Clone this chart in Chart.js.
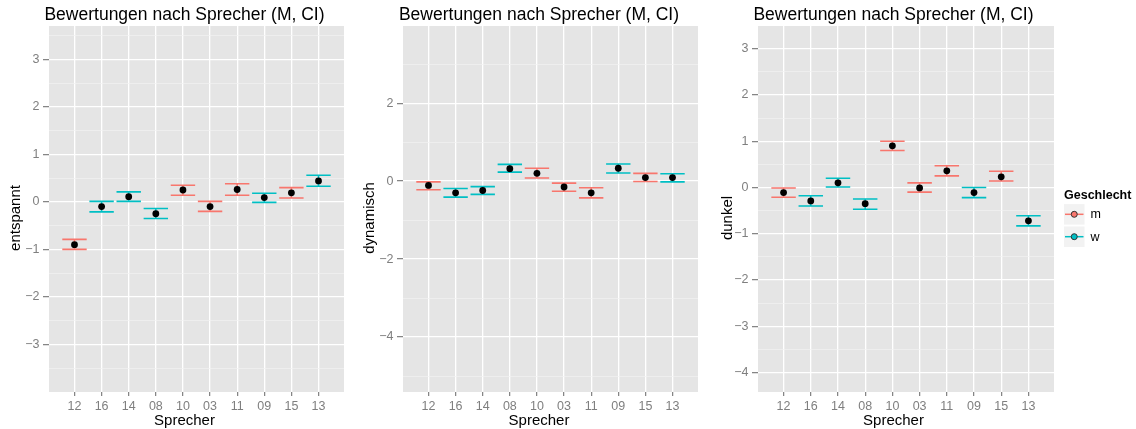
<!DOCTYPE html>
<html>
<head>
<meta charset="utf-8">
<script src="https://cdn.jsdelivr.net/npm/chart.js@4.4.1/dist/chart.umd.min.js"></script>
<style>
  body { margin: 0; background: #fff; width: 1136px; height: 429px; overflow: hidden; position: relative; }
  canvas { position: absolute; top: 0; }
</style>
</head>
<body>
<canvas id="entspannt" width="360" height="429" style="left:0px"></canvas>
<canvas id="dynamisch" width="360" height="429" style="left:360px"></canvas>
<canvas id="dunkel" width="416" height="429" style="left:720px"></canvas>
<script>
const speakers = ["12", "16", "14", "08", "10", "03", "11", "09", "15", "13"];
const gender = ["m", "w", "w", "w", "m", "m", "m", "w", "m", "w"];

const entspanntMean = [-0.9, -0.1, 0.11, -0.25, 0.25, -0.1, 0.26, 0.09, 0.19, 0.44];
const entspanntLow = [-1.0, -0.21, 0.01, -0.35, 0.14, -0.2, 0.14, -0.01, 0.08, 0.33];
const entspanntHigh = [-0.79, 0.01, 0.21, -0.14, 0.35, 0.01, 0.38, 0.18, 0.3, 0.56];
const entspanntTicks = [-3, -2, -1, 0, 1, 2, 3];

const dynamischMean = [-0.11, -0.3, -0.24, 0.32, 0.2, -0.15, -0.3, 0.33, 0.09, 0.09];
const dynamischLow = [-0.22, -0.41, -0.34, 0.23, 0.08, -0.26, -0.43, 0.21, -0.01, -0.02];
const dynamischHigh = [-0.02, -0.19, -0.14, 0.43, 0.33, -0.05, -0.17, 0.44, 0.2, 0.19];
const dynamischTicks = [-4, -2, 0, 2];

const dunkelMean = [-0.11, -0.29, 0.1, -0.35, 0.9, -0.01, 0.36, -0.11, 0.23, -0.72];
const dunkelLow = [-0.21, -0.4, 0.01, -0.47, 0.8, -0.1, 0.25, -0.22, 0.14, -0.83];
const dunkelHigh = [-0.01, -0.18, 0.2, -0.25, 1.0, 0.1, 0.47, 0.0, 0.35, -0.61];
const dunkelTicks = [-4, -3, -2, -1, 0, 1, 2, 3];

const colours = { m: "#F8766D", w: "#00BFC4" };
const font = '"Liberation Sans", Arial, sans-serif';
const title = "Bewertungen nach Sprecher (M, CI)";

const fmt = (v) => (v < 0 ? "\u2212" + Math.abs(v) : String(v));

// grey panel behind the grid
const panelBg = {
  id: "panelBg",
  beforeDraw(chart) {
    const { ctx, chartArea: a } = chart;
    ctx.save();
    ctx.fillStyle = "#E5E5E5";
    ctx.fillRect(a.left, a.top, a.right - a.left, a.bottom - a.top);
    ctx.restore();
  },
};

function errorBars(low, high) {
  return {
    id: "errorBars",
    beforeDatasetsDraw(chart) {
      const { ctx, scales: { x, y } } = chart;
      ctx.save();
      ctx.lineWidth = 1.6;
      low.forEach((lo, i) => {
        const x0 = x.getPixelForValue(i - 0.45);
        const x1 = x.getPixelForValue(i + 0.45);
        const xc = x.getPixelForValue(i);
        const yl = y.getPixelForValue(lo);
        const yh = y.getPixelForValue(high[i]);
        ctx.strokeStyle = colours[gender[i]];
        ctx.beginPath();
        ctx.moveTo(x0, yh); ctx.lineTo(x1, yh);
        ctx.moveTo(x0, yl); ctx.lineTo(x1, yl);
        ctx.moveTo(xc, yh); ctx.lineTo(xc, yl);
        ctx.stroke();
      });
      ctx.restore();
    },
  };
}

function labels(cfg) {
  return {
    id: "labels",
    afterDraw(chart) {
      const ctx = chart.ctx;
      ctx.save();
      ctx.fillStyle = "#000";
      ctx.textAlign = "center";
      ctx.textBaseline = "alphabetic";
      ctx.font = "17.5px " + font;
      ctx.fillText(title, cfg.centerX, 20);
      ctx.font = "15px " + font;
      ctx.fillText("Sprecher", cfg.centerX, 425);
      ctx.translate(cfg.yTitleX, 218);
      ctx.rotate(-Math.PI / 2);
      ctx.fillText(cfg.yTitle, 0, 0);
      ctx.restore();

      if (cfg.legend) {
        const lx = 344;
        ctx.save();
        ctx.fillStyle = "#000";
        ctx.font = "bold 12.5px " + font;
        ctx.fillText("Geschlecht", lx, 199);
        ["m", "w"].forEach((g, k) => {
          const cy = 214.3 + k * 22.4;
          ctx.fillStyle = "#F2F2F2";
          ctx.fillRect(lx, cy - 10.2, 20.5, 20.5);
          ctx.strokeStyle = colours[g];
          ctx.lineWidth = 1.5;
          ctx.beginPath();
          ctx.moveTo(lx + 1, cy);
          ctx.lineTo(lx + 19.5, cy);
          ctx.stroke();
          ctx.beginPath();
          ctx.arc(lx + 10.25, cy, 3, 0, Math.PI * 2);
          ctx.fillStyle = colours[g];
          ctx.fill();
          ctx.strokeStyle = "#333";
          ctx.lineWidth = 1;
          ctx.stroke();
          ctx.fillStyle = "#000";
          ctx.font = "12.5px " + font;
          ctx.fillText(g, lx + 26.5, cy + 3.8);
        });
        ctx.restore();
      }
    },
  };
}

function makePanel(id, p) {
  const majors = p.ticks;
  const step = majors[1] - majors[0];
  const minors = [];
  majors.forEach((v) => {
    [v - step / 2, v + step / 2].forEach((m) => {
      if (m > p.min && m < p.max && !minors.includes(m)) minors.push(m);
    });
  });
  const allY = majors.concat(minors).sort((a, b) => a - b);
  const isMajor = (v) => majors.includes(v);

  new Chart(document.getElementById(id), {
    type: "scatter",
    data: {
      datasets: [
        {
          data: p.mean.map((m, i) => ({ x: i, y: m })),
          pointRadius: 3.4,
          pointBackgroundColor: "#000",
          pointBorderWidth: 0,
        },
      ],
    },
    options: {
      responsive: false,
      animation: false,
      events: [],
      layout: { padding: { left: 0, right: p.padRight, top: 26, bottom: 0 } },
      plugins: { legend: { display: false }, tooltip: { enabled: false } },
      scales: {
        x: {
          type: "linear",
          min: -0.94,
          max: 9.94,
          afterBuildTicks: (s) => { s.ticks = speakers.map((_, i) => ({ value: i })); },
          afterFit: (s) => { s.height = 37; },
          border: { display: false },
          grid: { color: "#FFFFFF", lineWidth: 1.3, tickLength: 4, tickColor: "#7F7F7F", tickWidth: 1.2 },
          ticks: {
            autoSkip: false,
            maxRotation: 0,
            padding: 3,
            color: "#7F7F7F",
            font: { family: font, size: 12.5 },
            callback: (v) => speakers[v],
          },
        },
        y: {
          min: p.min,
          max: p.max,
          afterBuildTicks: (s) => { s.ticks = allY.map((v) => ({ value: v })); },
          afterFit: (s) => { s.width = p.axisWidth; },
          border: { display: false },
          grid: {
            color: (c) => (isMajor(c.tick.value) ? "#FFFFFF" : "#F2F2F2"),
            lineWidth: (c) => (isMajor(c.tick.value) ? 1.3 : 0.7),
            tickLength: 6,
            tickColor: (c) => (isMajor(c.tick.value) ? "#7F7F7F" : "rgba(0,0,0,0)"),
            tickWidth: 1.2,
          },
          ticks: {
            autoSkip: false,
            padding: 3.5,
            color: "#7F7F7F",
            font: { family: font, size: 12.5 },
            callback: (v) => (isMajor(v) ? fmt(v) : ""),
          },
        },
      },
    },
    plugins: [panelBg, errorBars(p.low, p.high), labels(p)],
  });
}

makePanel("entspannt", {
  mean: entspanntMean, low: entspanntLow, high: entspanntHigh, ticks: entspanntTicks,
  min: -4.0, max: 3.7, axisWidth: 49, padRight: 16,
  centerX: 184.5, yTitle: "entspannt", yTitleX: 20,
});
makePanel("dynamisch", {
  mean: dynamischMean, low: dynamischLow, high: dynamischHigh, ticks: dynamischTicks,
  min: -5.41, max: 3.98, axisWidth: 43, padRight: 22,
  centerX: 179, yTitle: "dynamisch", yTitleX: 13.5,
});
makePanel("dunkel", {
  mean: dunkelMean, low: dunkelLow, high: dunkelHigh, ticks: dunkelTicks,
  min: -4.42, max: 3.49, axisWidth: 38, padRight: 82,
  centerX: 173.5, yTitle: "dunkel", yTitleX: 11.5, legend: true,
});
</script>
</body>
</html>
